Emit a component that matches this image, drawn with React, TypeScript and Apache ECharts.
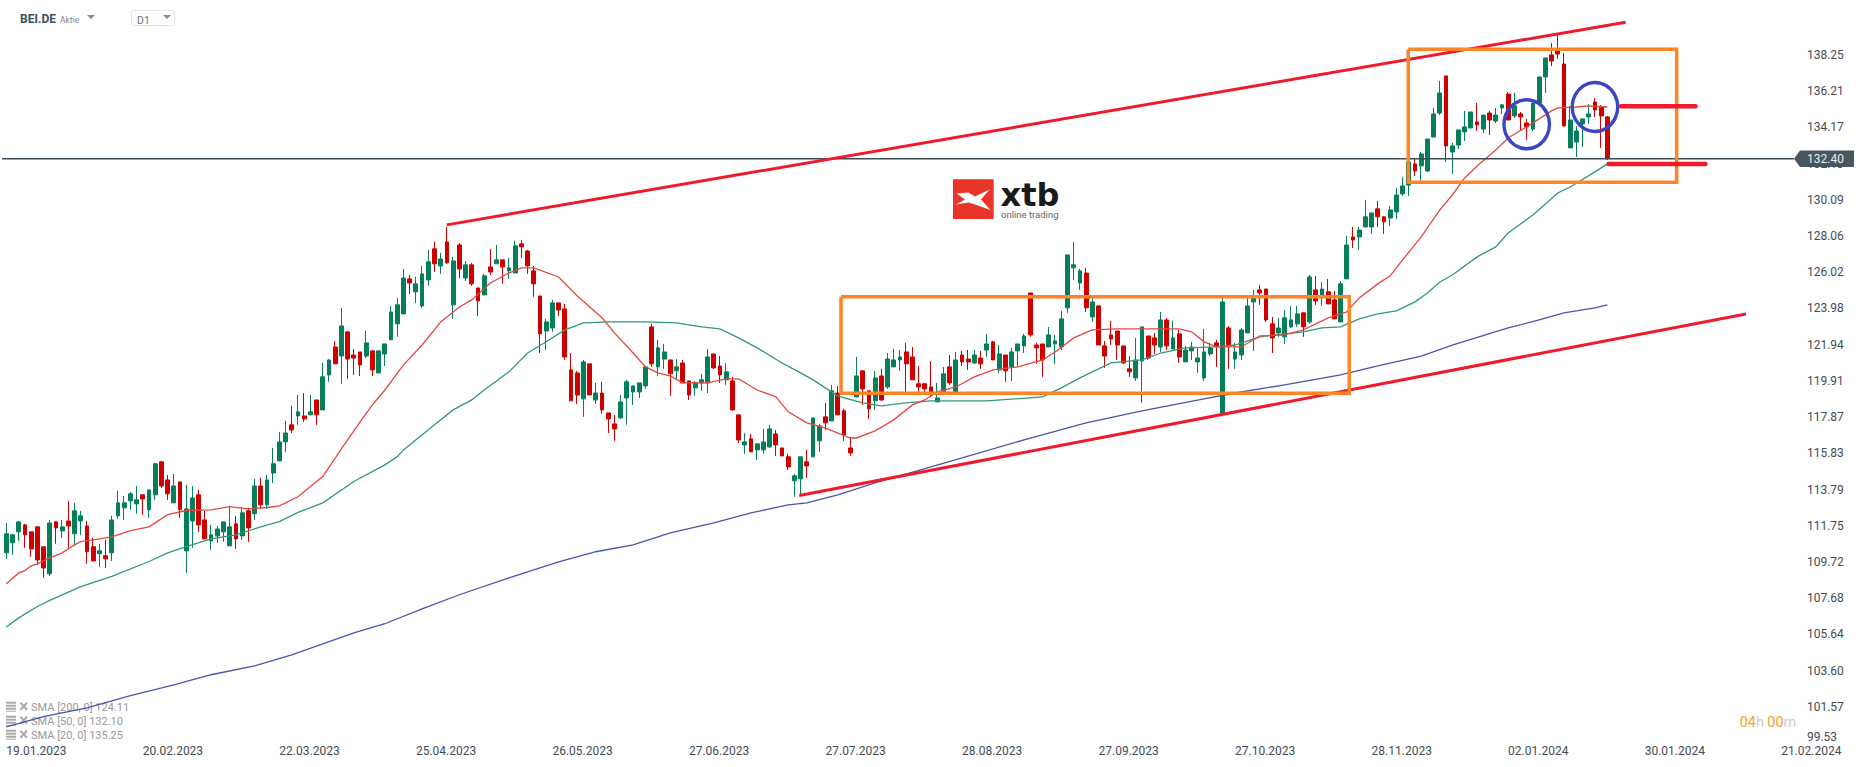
import React, { useEffect, useRef } from 'react';
import * as echarts from 'echarts';

// [open, close, low, high] for every session
const candles = [
  [110.23,111.30,109.89,111.91],[110.79,111.24,110.12,111.30],[111.41,111.97,110.90,112.02],[111.80,111.24,110.51,111.86],
  [111.41,110.45,110.01,111.41],[111.69,109.83,109.55,111.69],[110.57,109.38,108.82,110.57],[109.05,111.91,108.93,112.08],
  [111.97,111.63,110.74,112.02],[111.46,111.69,111.07,112.08],[112.02,111.74,110.51,113.15],[111.30,112.59,110.62,113.04],
  [112.02,112.31,111.24,112.59],[111.74,110.29,109.61,112.02],[110.57,109.77,109.77,111.07],[110.18,110.34,109.44,110.74],
  [110.06,109.89,109.38,110.96],[110.23,112.08,109.77,112.31],[112.31,113.04,112.14,113.71],[112.76,113.04,112.08,113.43],
  [113.15,113.55,112.65,113.66],[112.98,113.21,112.43,113.99],[113.49,113.26,112.37,113.49],[112.65,113.77,112.19,113.77],
  [113.49,115.24,113.21,115.29],[115.35,113.99,113.88,115.40],[114.33,113.55,113.21,114.61],[113.04,113.99,113.04,114.67],
  [114.22,112.65,112.19,114.22],[110.34,112.70,109.10,114.05],[112.02,113.32,110.51,113.99],[113.49,111.80,111.41,113.77],
  [112.08,111.01,111.01,112.59],[110.90,111.24,110.40,111.80],[111.18,111.57,110.79,111.74],[111.41,111.97,110.85,111.97],
  [110.62,111.69,110.62,112.87],[111.86,111.01,110.45,112.31],[111.18,112.48,110.96,112.81],[112.59,111.63,110.85,112.76],
  [112.43,113.99,112.08,114.39],[113.99,112.93,112.70,114.45],[112.93,114.33,112.70,114.61],[114.72,115.24,114.16,116.13],
  [115.40,116.47,115.40,117.03],[116.47,116.97,115.91,117.65],[117.43,117.14,116.97,118.50],[117.93,118.16,117.43,119.11],
  [117.93,117.76,117.60,119.22],[117.99,118.16,117.99,119.11],[118.83,117.99,117.43,118.83],[118.27,120.13,118.27,120.91],
  [120.24,121.08,119.85,121.13],[121.81,120.86,120.86,122.15],[121.30,122.99,119.74,124.00],[122.66,121.13,120.01,122.66],
  [121.36,121.19,120.24,121.70],[121.53,120.80,120.18,121.53],[121.30,122.04,121.19,122.71],[121.59,120.52,120.18,121.64],
  [120.35,121.59,120.35,121.59],[121.42,121.98,120.74,121.98],[122.21,123.78,122.21,124.12],[123.11,124.18,122.38,124.57],
  [123.67,125.69,123.67,126.20],[125.64,125.41,124.79,125.86],[124.91,125.36,124.29,125.75],[124.12,125.92,124.01,126.37],
  [125.58,126.60,125.25,127.27],[127.33,126.49,126.03,127.72],[126.37,126.76,125.92,127.10],[127.72,126.54,126.49,128.56],
  [124.18,126.65,123.39,126.88],[127.55,126.20,125.69,127.66],[125.69,126.43,125.52,126.65],[126.43,125.36,125.25,126.54],
  [125.13,124.40,123.56,125.13],[124.74,125.81,124.74,125.92],[126.31,126.03,125.86,127.33],[126.49,126.71,126.49,127.55],
  [126.71,126.31,125.36,126.71],[126.09,126.26,125.64,126.82],[125.97,127.50,125.97,127.78],[127.61,127.44,126.82,127.83],
  [127.21,126.37,125.92,127.27],[126.09,125.36,124.63,126.37],[124.68,122.55,121.47,124.68],[122.71,123.22,121.64,123.39],
  [122.88,124.29,122.66,124.46],[124.29,123.89,123.56,124.29],[123.95,121.25,121.08,124.23],[120.52,118.78,118.78,121.47],
  [120.35,119.11,118.61,120.47],[118.89,120.97,117.88,121.08],[120.86,119.11,119.11,120.86],[118.83,119.22,118.61,119.79],
  [119.22,118.27,118.05,119.85],[118.10,117.76,116.97,118.10],[117.48,117.20,116.53,117.99],[117.82,118.72,117.76,119.11],
  [118.94,119.85,117.43,119.96],[119.28,119.62,118.55,119.62],[119.28,119.79,118.94,119.79],[119.62,120.69,119.45,120.74],
  [122.94,120.86,120.69,123.11],[120.69,121.76,120.18,122.21],[121.13,121.53,120.58,121.98],[121.08,120.30,119.06,121.08],
  [120.47,120.69,119.96,121.13],[120.91,119.79,119.79,121.08],[119.90,119.11,118.83,119.90],[119.51,119.79,119.06,119.90],
  [119.79,119.96,119.34,120.30],[119.79,121.25,119.22,121.70],[121.42,120.63,120.58,121.42],[120.74,120.24,119.79,121.30],
  [119.96,120.41,119.68,120.91],[119.90,118.27,118.22,120.13],[117.99,116.58,116.41,117.99],[116.30,116.47,115.80,116.97],
  [116.64,115.91,115.91,116.92],[116.02,116.36,115.46,116.36],[116.02,116.47,115.80,117.20],[116.19,117.20,116.13,117.43],
  [116.92,116.30,115.68,117.14],[116.13,115.68,115.68,116.13],[115.63,115.06,114.89,115.80],[114.28,114.56,113.38,114.67],
  [114.39,115.63,113.43,115.63],[115.35,115.12,114.45,116.02],[115.63,117.82,115.63,117.82],[116.53,117.37,115.91,117.48],
  [117.88,117.54,117.14,118.66],[117.65,119.34,117.65,119.68],[119.22,117.99,117.99,119.62],[118.22,116.86,116.53,118.33],
  [116.13,115.85,115.68,116.75],[119.00,120.18,119.00,121.25],[120.47,119.45,118.55,120.47],[119.34,118.33,117.76,119.34],
  [118.78,120.07,118.27,120.47],[120.18,118.83,118.78,120.58],[119.56,121.13,119.45,121.47],[120.69,121.08,120.69,121.70],
  [121.08,121.25,120.47,121.64],[121.53,120.86,119.28,122.04],[121.25,119.96,119.96,121.81],[119.74,119.56,119.28,120.74],
  [119.74,119.45,119.11,119.79],[119.56,119.28,119.00,121.02],[118.72,118.94,118.72,119.79],[119.28,120.30,119.11,120.69],
  [120.69,119.79,119.68,121.36],[119.28,121.08,119.11,121.53],[121.36,120.97,120.74,121.59],[121.13,120.97,120.52,121.64],
  [120.91,121.36,120.86,121.64],[121.19,120.86,120.58,121.59],[121.64,121.98,121.25,122.55],[122.10,121.08,121.08,122.15],
  [120.52,121.42,120.35,121.92],[121.36,120.47,119.85,121.36],[120.69,121.53,119.90,121.76],[121.59,121.98,120.69,121.98],
  [121.87,122.43,121.47,122.55],[124.85,122.49,122.38,124.85],[121.92,121.76,120.86,122.04],[121.98,121.08,120.13,121.98],
  [121.81,122.49,121.81,122.94],[121.98,122.15,120.86,122.49],[121.81,123.39,121.64,123.84],[124.01,126.99,123.73,126.99],
  [126.26,126.43,125.58,127.72],[125.41,126.09,125.02,126.20],[125.97,124.01,123.78,126.26],[123.50,124.34,123.22,124.57],
  [124.12,121.92,121.92,124.12],[121.87,121.30,120.63,122.15],[122.49,122.26,121.92,123.28],[122.71,121.92,121.08,122.71],
  [121.87,120.91,120.86,121.87],[120.58,120.41,120.13,121.30],[120.07,121.08,119.90,122.32],[121.02,122.94,118.66,122.94],
  [122.43,121.19,121.08,122.43],[122.32,121.92,121.42,122.60],[121.81,123.33,121.53,123.78],[123.33,121.87,121.64,123.45],
  [121.70,122.32,121.70,123.28],[122.55,121.25,120.91,122.77],[120.97,121.64,120.97,121.87],[121.59,121.81,121.08,122.10],
  [120.97,121.19,120.35,121.76],[120.07,121.53,119.90,122.83],[121.42,121.76,121.30,122.04],[122.04,121.87,120.69,122.21],
  [118.05,124.34,118.05,124.57],[122.88,121.92,120.58,122.99],[121.13,121.53,120.58,122.04],[121.36,122.77,121.08,122.88],
  [122.60,124.12,122.60,124.57],[124.34,124.57,121.59,125.02],[125.02,124.85,124.18,125.30],[125.07,123.33,123.22,125.07],
  [123.11,122.32,121.47,123.50],[122.60,122.88,122.38,123.45],[122.38,123.45,121.98,123.89],[122.94,123.33,122.88,124.12],
  [123.11,123.67,122.94,124.12],[123.73,122.94,122.38,123.73],[123.22,125.75,123.11,125.86],[125.02,124.40,124.18,125.81],
  [124.68,125.07,124.12,125.47],[124.91,124.23,124.23,125.64],[124.46,123.39,123.39,124.96],[123.22,125.36,123.22,125.52],
  [125.64,127.55,125.64,128.06],[128.00,127.83,127.38,128.56],[128.00,128.39,127.27,128.56],[128.56,129.13,128.56,130.08],
  [128.56,129.35,128.17,129.35],[129.58,129.13,128.56,130.03],[129.13,128.85,128.17,129.18],[129.07,129.52,128.62,129.75],
  [129.41,130.36,129.01,130.76],[130.42,130.87,130.31,131.38],[130.92,132.22,130.31,132.22],[132.11,131.71,131.43,132.44],
  [132.00,132.67,131.15,132.78],[131.71,133.51,131.66,133.51],[133.62,134.92,133.62,135.26],[134.97,136.10,134.86,136.77],
  [137.06,133.12,132.22,137.06],[132.78,133.12,131.54,133.29],[133.17,134.02,132.95,134.02],[133.91,134.19,133.40,135.09],
  [134.13,135.03,134.13,135.03],[134.47,134.30,133.96,135.54],[134.07,134.86,133.85,134.86],[134.97,134.58,133.74,135.09],
  [134.52,134.86,134.41,135.26],[135.26,135.43,134.92,135.48],[136.04,134.58,134.58,136.16],[134.81,135.37,134.69,136.10],
  [134.92,134.75,134.02,135.03],[134.41,134.19,133.46,134.64],[134.07,135.54,133.96,135.54],[135.54,137.00,135.54,137.00],
  [137.00,138.07,136.10,138.07],[138.24,137.90,137.62,138.91],[138.46,138.29,138.01,139.36],[137.73,134.24,134.24,138.35],
  [133.01,134.58,133.01,135.37],[133.34,133.96,132.50,134.24],[134.36,134.64,133.06,134.64],[134.75,134.92,134.36,135.48],
  [135.59,135.14,134.75,135.82],[135.31,134.81,133.01,135.42],[134.75,132.40,132.33,134.81],
];

// moving averages as [session, value]
const sma20 = [
  [0,108.49],[2,109.10],[3,109.23],[4,109.50],[5,109.61],[7,109.94],[9,110.23],[11,110.68],[12,110.86],[14,110.96],
  [17,111.13],[20,111.48],[23,111.69],[26,112.38],[29,112.61],[33,112.65],[36,112.83],[39,112.70],[42,112.78],[44,112.87],
  [47,113.38],[49,113.96],[51,114.52],[54,116.08],[57,117.60],[59,118.55],[61,119.39],[64,120.80],[67,121.92],[70,123.22],
  [73,124.06],[75,124.46],[78,125.41],[81,125.97],[83,126.26],[85,126.26],[89,125.75],[92,124.68],[96,123.45],[98,122.60],
  [101,121.47],[103,120.69],[105,120.35],[107,120.18],[109,119.79],[113,119.79],[116,120.01],[118,120.01],[121,119.39],
  [124,119.00],[126,118.16],[129,117.54],[132,117.25],[136,116.69],[137,116.69],[140,117.09],[143,117.71],[146,118.55],
  [148,118.83],[150,119.28],[153,119.56],[156,120.13],[159,120.52],[163,120.69],[167,121.08],[169,121.53],[172,122.32],
  [175,122.77],[179,122.83],[185,122.83],[189,122.83],[191,122.66],[193,122.10],[195,121.81],[199,121.81],[202,122.43],
  [206,122.49],[209,122.77],[213,123.45],[216,123.78],[218,124.57],[221,125.36],[223,125.81],[225,126.71],[228,128.00],
  [231,129.52],[233,130.36],[235,131.32],[237,131.99],[240,132.89],[242,133.57],[245,134.19],[249,135.09],[250,135.26],
  [253,135.31],[255,135.37],[258,135.31],
];
const sma50 = [
  [0,106.06],[2,106.57],[5,107.21],[7,107.55],[12,108.33],[17,108.90],[23,109.74],[26,110.23],[29,110.58],[33,111.01],
  [37,111.24],[41,111.69],[44,111.99],[47,112.50],[51,113.04],[56,114.24],[61,115.18],[63,115.64],[64,116.02],[69,117.43],
  [72,118.27],[75,118.83],[77,119.39],[81,120.41],[84,121.47],[87,122.10],[90,122.77],[93,123.17],[97,123.22],[103,123.22],
  [108,123.17],[112,122.94],[115,122.83],[118,122.32],[121,121.76],[125,120.91],[128,120.35],[130,119.96],[134,119.05],
  [138,118.66],[141,118.50],[145,118.66],[149,118.78],[158,118.78],[167,119.00],[170,119.51],[173,120.07],[178,120.91],
  [183,121.08],[186,121.47],[190,121.76],[195,121.81],[198,121.92],[202,122.38],[209,122.66],[212,122.88],[215,122.94],
  [218,123.39],[221,123.67],[224,123.84],[227,124.35],[229,124.85],[231,125.47],[233,125.86],[237,126.88],[240,127.44],
  [242,128.22],[246,129.24],[250,130.47],[252,130.81],[256,131.66],[258,132.11],
];
const sma200 = [
  [0,100.44],[6,101.01],[13,101.51],[20,102.19],[27,102.80],[33,103.37],[40,103.87],[46,104.49],[56,105.73],[61,106.24],
  [67,107.08],[73,107.87],[81,108.82],[89,109.72],[95,110.29],[101,110.68],[107,111.35],[114,111.91],[120,112.48],[123,112.70],
  [126,112.93],[129,113.04],[134,113.49],[140,114.16],[149,115.07],[164,116.58],[174,117.54],[183,118.22],[193,118.89],
  [198,119.22],[206,119.68],[215,120.24],[221,120.74],[228,121.30],[233,121.92],[242,122.88],[247,123.33],[251,123.73],
  [256,124.01],[258,124.18],
];

const sessionCount = 290;
const dateLabelStep = 22;
const dateLabels = [
  '19.01.2023', '20.02.2023', '22.03.2023', '25.04.2023', '26.05.2023', '27.06.2023', '27.07.2023',
  '28.08.2023', '27.09.2023', '27.10.2023', '28.11.2023', '02.01.2024', '30.01.2024', '21.02.2024',
];
const priceTicks = [
  99.53, 101.57, 103.6, 105.64, 107.68, 109.72, 111.75, 113.79, 115.83, 117.87,
  119.91, 121.94, 123.98, 126.02, 128.06, 130.09, 132.13, 134.17, 136.21, 138.25,
];
const lastPrice = 132.4;

// drawn on the chart by hand: trend lines, boxes, circles, marker lines
const upperTrend = [[70.96, 128.68], [260.94, 140.08]];
const lowerTrend = [[127.78, 113.45], [280.33, 123.67]];
const boxMiddle = [[134.5, 124.64], [216.4, 124.64], [216.4, 119.21], [134.5, 119.21], [134.5, 124.64]];
const boxTop = [[225.91, 138.56], [269.16, 138.56], [269.16, 131.08], [225.91, 131.08], [225.91, 138.56]];
const circleMarks = [[245.0, 134.34], [256.0, 135.31]];
const markerHigh = [[260.2, 135.35], [272.2, 135.35]];
const markerLow = [[258.2, 132.11], [273.8, 132.11]];
const priceLine = [[-1.02, lastPrice], [288.07, lastPrice]];

const smaLegend = ['SMA [200, 0] 124.11', 'SMA [50, 0] 132.10', 'SMA [20, 0] 135.25'];

const lineSeries = (data: number[][], color: string, width: number, z: number, cap: string = 'butt') => ({
  type: 'line',
  xAxisIndex: 1,
  data,
  showSymbol: false,
  silent: true,
  clip: false,
  z,
  lineStyle: { color, width, cap, join: 'miter', opacity: 1 },
});

const legendIcon = (y: number) => ({
  type: 'group',
  silent: true,
  children: [
    { type: 'rect', shape: { x: 6, y: y - 6, width: 10, height: 2 }, style: { fill: '#aaaaaa' } },
    { type: 'rect', shape: { x: 6, y: y - 3, width: 10, height: 2 }, style: { fill: '#aaaaaa' } },
    { type: 'rect', shape: { x: 6, y: y, width: 10, height: 2 }, style: { fill: '#aaaaaa' } },
    { type: 'rect', shape: { x: 6, y: y + 3, width: 10, height: 1 }, style: { fill: '#aaaaaa' } },
    { type: 'line', shape: { x1: 20.5, y1: y - 5, x2: 27, y2: y + 2 }, style: { stroke: '#aaaaaa', lineWidth: 2 } },
    { type: 'line', shape: { x1: 27, y1: y - 5, x2: 20.5, y2: y + 2 }, style: { stroke: '#aaaaaa', lineWidth: 2 } },
  ],
});

export default function App() {
  const chartRef = useRef<HTMLDivElement>(null);

  useEffect(() => {
    document.body.style.margin = '0';
    if (!chartRef.current) return;
    const chart = echarts.init(chartRef.current, undefined, { renderer: 'svg' });

    const categories = Array.from({ length: sessionCount }, (_, i) =>
      i % dateLabelStep === 0 ? dateLabels[i / dateLabelStep] || '' : '',
    );

    chart.setOption({
      animation: false,
      backgroundColor: '#ffffff',
      grid: { left: 3.2, width: 1799.7, top: 0, height: 743, containLabel: false },
      xAxis: [
        {
          type: 'category',
          data: categories,
          boundaryGap: true,
          axisLine: { show: false },
          axisTick: { show: false },
          splitLine: { show: false },
          axisLabel: {
            interval: (i: number) => i % dateLabelStep === 0,
            align: 'left',
            margin: 2,
            color: '#454c54',
            fontFamily: 'Roboto',
            fontSize: 12,
            hideOverlap: false,
          },
        },
        { type: 'value', min: -0.5, max: sessionCount - 0.5, show: false },
      ],
      yAxis: {
        type: 'value',
        position: 'right',
        min: 99.53,
        max: 141.33,
        scale: true,
        axisLine: { show: false },
        axisTick: { show: false, customValues: priceTicks },
        splitLine: { show: false },
        axisLabel: {
          customValues: priceTicks,
          margin: 4,
          color: '#454c54',
          fontFamily: 'Roboto',
          fontSize: 12,
          verticalAlignMinLabel: 'bottom',
          formatter: (value: number) => value.toFixed(2),
        },
      },
      series: [
        {
          type: 'candlestick',
          data: candles,
          barWidth: 4.3,
          silent: true,
          clip: false,
          z: 2,
          itemStyle: {
            color: '#047f59',
            color0: '#cf0000',
            borderColor: '#047f59',
            borderColor0: '#cf0000',
            borderWidth: 1,
          },
        },
        lineSeries(sma200, '#4a54ae', 1.3, 3),
        lineSeries(sma50, '#2f9a75', 1.3, 3),
        lineSeries(sma20, '#e5473f', 1.3, 3),
        lineSeries(priceLine, '#3c4c56', 1.4, 4),
        lineSeries(upperTrend, '#f01a2d', 3, 5),
        lineSeries(lowerTrend, '#f01a2d', 3, 5),
        lineSeries(boxMiddle, '#ff8427', 3.5, 6),
        lineSeries(boxTop, '#ff8427', 3.5, 6),
        lineSeries(markerHigh, '#f01a2d', 4.5, 7, 'round'),
        lineSeries(markerLow, '#f01a2d', 4.5, 7, 'round'),
        {
          type: 'scatter',
          xAxisIndex: 1,
          data: circleMarks,
          symbol: 'circle',
          symbolSize: [45.5, 49],
          silent: true,
          clip: false,
          z: 7,
          itemStyle: { color: 'rgba(0,0,0,0)', borderColor: '#3c46c4', borderWidth: 3.5, opacity: 1 },
        },
        {
          // price tag on the axis
          type: 'custom',
          xAxisIndex: 1,
          data: [[288.07, lastPrice]],
          silent: true,
          clip: false,
          z: 10,
          renderItem: (_params: unknown, api: any) => {
            const [tipX, midY] = api.coord([api.value(0), api.value(1)]);
            return {
              type: 'group',
              children: [
                {
                  type: 'polygon',
                  shape: {
                    points: [
                      [tipX, midY],
                      [tipX + 6, midY - 8.3],
                      [tipX + 60, midY - 8.3],
                      [tipX + 60, midY + 8.3],
                      [tipX + 6, midY + 8.3],
                    ],
                  },
                  style: { fill: '#47565f' },
                },
                {
                  type: 'text',
                  x: tipX + 13,
                  y: midY,
                  style: {
                    text: lastPrice.toFixed(2),
                    fill: '#e8ecee',
                    font: '12px Roboto',
                    verticalAlign: 'middle',
                  },
                },
              ],
            };
          },
        },
      ],
      graphic: [
        // header
        { type: 'text', x: 20, y: 19, silent: true, style: { text: 'BEI.DE', font: 'bold 12px Roboto', fill: '#3d4f5c', verticalAlign: 'middle' } },
        { type: 'text', x: 60, y: 19.5, silent: true, style: { text: 'Aktie', font: '8.5px Roboto', fill: '#7d868c', verticalAlign: 'middle' } },
        { type: 'polygon', silent: true, shape: { points: [[87, 15], [95, 15], [91, 19]] }, style: { fill: '#8c8c8c' } },
        { type: 'rect', silent: true, shape: { x: 131.5, y: 10.5, width: 43, height: 15, r: 2 }, style: { fill: '#ffffff', stroke: '#e4e4e4', lineWidth: 1 } },
        { type: 'text', x: 137, y: 20, silent: true, style: { text: 'D1', font: '10.5px Roboto', fill: '#6a747a', verticalAlign: 'middle' } },
        { type: 'polygon', silent: true, shape: { points: [[163, 15], [171, 15], [167, 19]] }, style: { fill: '#8c8c8c' } },
        // logo
        { type: 'rect', silent: true, shape: { x: 953, y: 179.3, width: 40.7, height: 39.7 }, style: { fill: '#e8352a' } },
        {
          type: 'polygon',
          silent: true,
          shape: {
            points: [
              [956.5, 193.5], [968.5, 192.5], [975, 196.5], [989.5, 189.5], [981, 199.5],
              [990.5, 210], [976.5, 205], [968.5, 202.5], [956, 204.5], [965, 199.5],
            ],
          },
          style: { fill: '#ffffff' },
        },
        { type: 'text', x: 1000.5, y: 195, silent: true, style: { text: 'xtb', font: 'bold 32px "DejaVu Sans"', fill: '#1a1a1a', lineHeight: 26, verticalAlign: 'middle' } },
        { type: 'text', x: 1001, y: 214.5, silent: true, style: { text: 'online trading', font: '9.5px Roboto', fill: '#666666', verticalAlign: 'middle' } },
        // sma legend
        ...smaLegend.flatMap((label, i) => {
          const y = 707.7 + i * 14;
          return [
            legendIcon(y),
            { type: 'text', x: 31, y, silent: true, style: { text: label, font: '11px Roboto', fill: '#999999', verticalAlign: 'middle' } },
          ];
        }),
        // countdown
        {
          type: 'text',
          x: 1739.7,
          y: 722,
          silent: true,
          style: {
            text: '{o|04}{g|h} {o|00}{g|m}',
            verticalAlign: 'middle',
            rich: {
              o: { fill: '#ff9d1e', font: '14.5px Roboto' },
              g: { fill: '#cccccc', font: '14.5px Roboto' },
            },
          },
        },
      ],
    });

    return () => chart.dispose();
  }, []);

  return <div ref={chartRef} style={{ width: 1866, height: 767 }} />;
}
